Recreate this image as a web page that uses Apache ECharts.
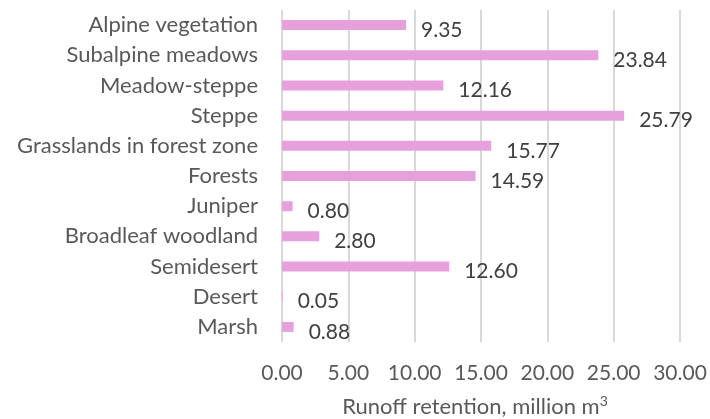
<!DOCTYPE html>
<html>
<head>
<meta charset="utf-8">
<script src="https://cdn.jsdelivr.net/npm/echarts@6/dist/echarts.min.js"></script>
<style>
html,body{margin:0;padding:0;background:#fff;}
#main{width:710px;height:419px;}
</style>
</head>
<body>
<div id="main"></div>
<script>
var categories = ['Alpine vegetation','Subalpine meadows','Meadow-steppe','Steppe','Grasslands in forest zone','Forests','Juniper','Broadleaf woodland','Semidesert','Desert','Marsh'];
var values = [9.35, 23.84, 12.16, 25.79, 15.77, 14.59, 0.80, 2.80, 12.60, 0.05, 0.88];
var FONT = 'Lato';
var chart = echarts.init(document.getElementById('main'), null, {renderer:'canvas'});
chart.setOption({
  backgroundColor:'#ffffff',
  animation:false,
  grid:{left:282, right:30, top:10, bottom:77, containLabel:false, outerBoundsMode:'none'},
  xAxis:{
    type:'value', min:0, max:30, interval:5,
    axisLine:{show:false}, axisTick:{show:false},
    splitLine:{show:true, lineStyle:{color:'#d9d9d9', width:2}},
    axisLabel:{fontFamily:FONT, fontSize:21, color:'#595959', margin:21,
      formatter:function(v){return v.toFixed(2);}},
    name:'Runoff retention, million m{sup|3}',
    nameLocation:'middle', nameGap:52,
    nameTextStyle:{fontFamily:FONT, fontSize:22, color:'#595959', padding:[0,12,0,0],
      rich:{sup:{fontFamily:FONT, fontSize:14, color:'#595959', verticalAlign:'top', padding:[0,0,11,0]}}}
  },
  yAxis:{
    type:'category', data:categories, inverse:true,
    axisLine:{show:false}, axisTick:{show:false},
    axisLabel:{fontFamily:FONT, fontSize:22, color:'#595959', margin:24}
  },
  series:[{
    type:'bar', data:values, barWidth:10,
    itemStyle:{color:'#e6a0dc'},
    label:{show:true, position:'right', distance:15, offset:[0,5],
      fontFamily:FONT, fontSize:21, color:'#404040',
      formatter:function(p){return p.value.toFixed(2);}}
  }]
});
</script>
</body>
</html>
